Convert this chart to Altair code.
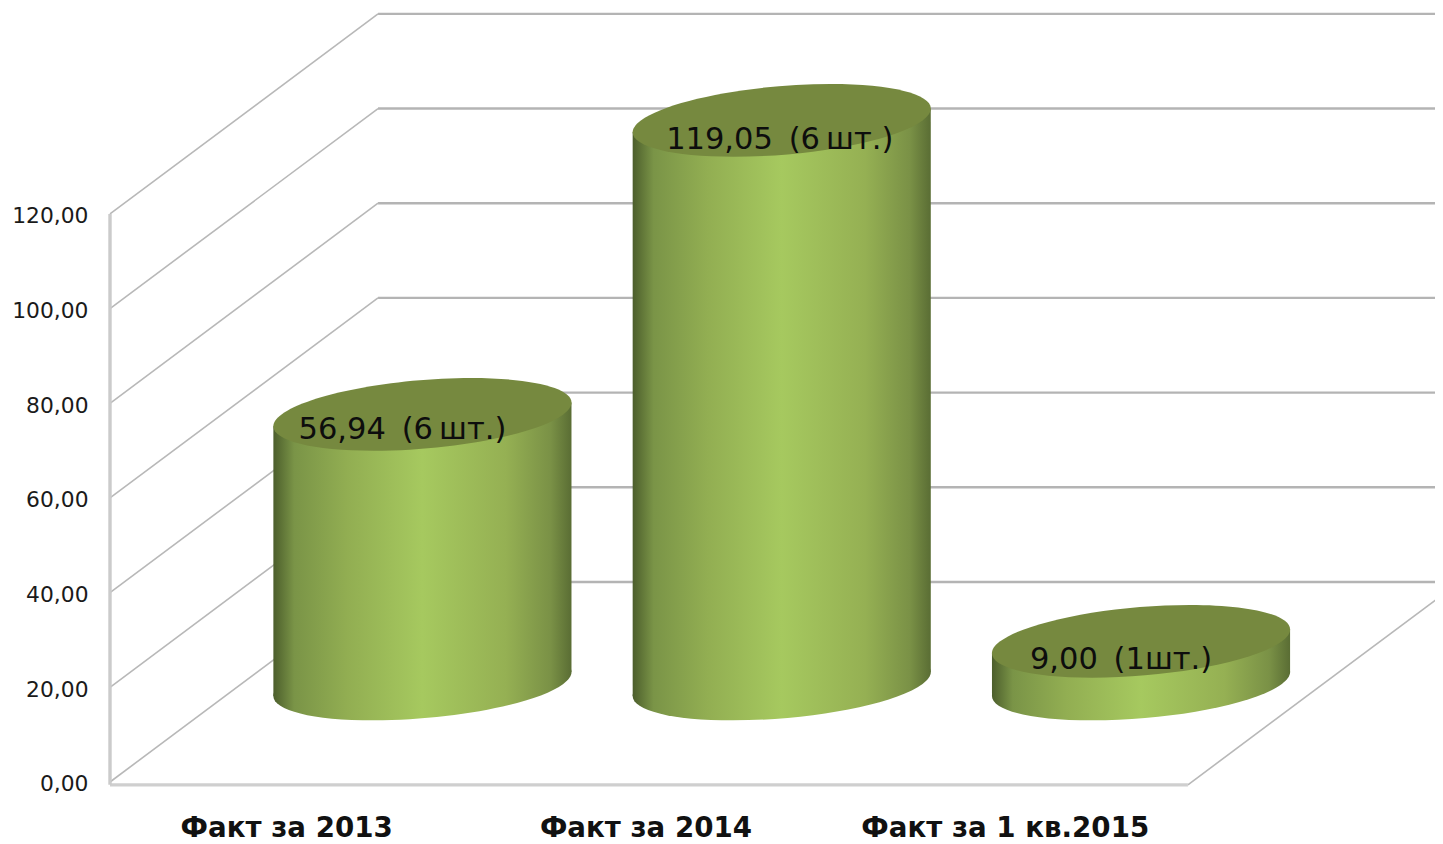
import altair as alt
import pandas as pd

categories = ["Факт за 2013", "Факт за 2014", "Факт за 1 кв.2015"]
values = [56.94, 119.05, 9.00]
labels = ["56,94\u2009 (6\u2009шт.)", "119,05\u2009 (6\u2009шт.)", "9,00\u2009 (1шт.)"]
ticks = [0, 20, 40, 60, 80, 100, 120]

# oblique projection of the chart's box: slot position u, depth d (0 front, 1 back), value v
DEPTH_U = 0.746
DEPTH_V = 42.26
X_MAX = 1325 / 359.3
Y_MIN, Y_MAX = -13.1, 163.5
R_U, R_D = 0.392, 0.182   # cylinder radius on the floor
DEPTH_C = 0.49
SLOT_C = 0.504
FLOOR = -0.6
PX_U, PX_V = 359.3, 4.733

def px(u, d):
    return u + d * DEPTH_U

def py(v, d):
    return v + d * DEPTH_V

x_scale = alt.Scale(domain=[0, X_MAX], nice=False, zero=False)
y_scale = alt.Scale(domain=[Y_MIN, Y_MAX], nice=False, zero=False)
y_axis = alt.Axis(
    values=ticks,
    orient="left",
    title=None,
    domain=False,
    ticks=False,
    grid=False,
    labelPadding=22,
    labelOffset=2,
    labelFont="DejaVu Sans",
    labelFontSize=21.8,
    labelColor="#1a1a1a",
    labelExpr="replace(format(datum.value, '.2f'), '.', ',')",
)
X = alt.X("x:Q", scale=x_scale, axis=None)
Y = alt.Y("y:Q", scale=y_scale, axis=y_axis)

# ellipse of the cylinder cross-section as an SVG path, one unit = one pixel at size 4
a = R_U * PX_U
b = R_D * DEPTH_U * PX_U
h = R_D * DEPTH_V * PX_V
k = 0.5523
def pt(c, s):
    return f"{a * c + b * s:.2f},{-h * s:.2f}"
ELLIPSE = (
    f"M{pt(1, 0)}C{pt(1, k)} {pt(k, 1)} {pt(0, 1)}"
    f"C{pt(-k, 1)} {pt(-1, k)} {pt(-1, 0)}"
    f"C{pt(-1, -k)} {pt(-k, -1)} {pt(0, -1)}"
    f"C{pt(k, -1)} {pt(1, -k)} {pt(1, 0)}Z"
)
# extreme left / right points of the ellipse in (u, d) terms
W = (a * a + b * b) ** 0.5
EX_U, EX_D = (a / W) * R_U, (b / W) * R_D

side = alt.Gradient(
    gradient="linear", x1=0, x2=1, y1=0, y2=0,
    stops=[
        alt.GradientStop(color="#4c5e2c", offset=0),
        alt.GradientStop(color="#7a9447", offset=0.07),
        alt.GradientStop(color="#92ae52", offset=0.25),
        alt.GradientStop(color="#a6c95f", offset=0.5),
        alt.GradientStop(color="#95b053", offset=0.78),
        alt.GradientStop(color="#7a9146", offset=0.93),
        alt.GradientStop(color="#5a6d34", offset=1),
    ],
)

diag = pd.DataFrame(
    [{"t": t, "x": px(0, d), "y": py(t, d)} for t in ticks for d in (0, 1)]
)
back = pd.DataFrame(
    [{"t": t, "x": x, "y": py(t, 1)} for t in ticks for x in (px(0, 1), X_MAX)]
)
right = pd.DataFrame(
    [{"x": px(3, d), "y": py(FLOOR, d)} for d in (0, 0.925)]
)
front = pd.DataFrame([{"x": 0, "y": FLOOR}, {"x": 3, "y": FLOOR}])
wall = pd.DataFrame([{"x": 0, "y": FLOOR}, {"x": 0, "y": 120}])

bodies = pd.DataFrame(
    [
        {
            "i": i,
            "x": px(i + SLOT_C + s * EX_U, DEPTH_C + s * EX_D),
            "y": py(v, DEPTH_C + s * EX_D),
            "y0": py(0, DEPTH_C + s * EX_D),
        }
        for i, v in enumerate(values)
        for s in (-1, 1)
    ]
)
caps = pd.DataFrame(
    [
        {"x": px(i + SLOT_C, DEPTH_C), "y": py(v, DEPTH_C), "y0": py(0, DEPTH_C)}
        for i, v in enumerate(values)
    ]
)
names = pd.DataFrame(
    [{"x": i + 0.5, "y": -10.0, "name": c} for i, c in enumerate(categories)]
)

layers = [
    alt.Chart(back).mark_line(color="#b4b4b4", strokeWidth=2.4).encode(x=X, y=Y, detail="t:N"),
    alt.Chart(diag).mark_line(color="#b8b8b8", strokeWidth=1.6).encode(x=X, y=Y, detail="t:N"),
    alt.Chart(right).mark_line(color="#b8b8b8", strokeWidth=1.6).encode(x=X, y=Y),
    alt.Chart(front).mark_line(color="#cfcfcf", strokeWidth=3.4).encode(x=X, y=Y),
    alt.Chart(wall).mark_line(color="#cbcbcb", strokeWidth=3.4).encode(x=X, y=Y),
    alt.Chart(bodies).mark_area(color=side, opacity=1).encode(
        x=X, y=Y, y2="y0:Q", detail="i:N"
    ),
    alt.Chart(caps).mark_point(shape=ELLIPSE, size=4, filled=True, fill=side, opacity=1, stroke=None).encode(
        x=X, y=alt.Y("y0:Q", scale=y_scale, axis=y_axis)
    ),
    alt.Chart(caps).mark_point(shape=ELLIPSE, size=4, filled=True, fill="#76893f", opacity=1, stroke=None).encode(
        x=X, y=Y
    ),
    alt.Chart(names).mark_text(
        font="DejaVu Sans", fontWeight="bold", fontSize=27.7, color="#111111", dx=-3
    ).encode(x=X, y=Y, text="name:N"),
]

# each value label sits on its cylinder's cap, at the offset it has in the picture
offsets = [(-20, 16), (-2, 20), (-20, 19)]
for i, (dx, dy) in enumerate(offsets):
    row = pd.DataFrame(
        [{"x": px(i + SLOT_C, DEPTH_C), "y": py(values[i], DEPTH_C), "label": labels[i]}]
    )
    layers.append(
        alt.Chart(row)
        .mark_text(font="DejaVu Sans", fontSize=30.5, color="#0d0d0d", dx=dx, dy=dy)
        .encode(x=X, y=Y, text="label:N")
    )

chart = (
    alt.layer(*layers)
    .properties(
        width=1325,
        height=836,
        padding={"left": 102, "top": 0, "right": 0, "bottom": 0},
        autosize=alt.AutoSizeParams(type="none"),
        background="white",
    )
    .configure_view(stroke=None)
)

chart.save("out.html", embed_options={"renderer": "svg", "actions": False})
